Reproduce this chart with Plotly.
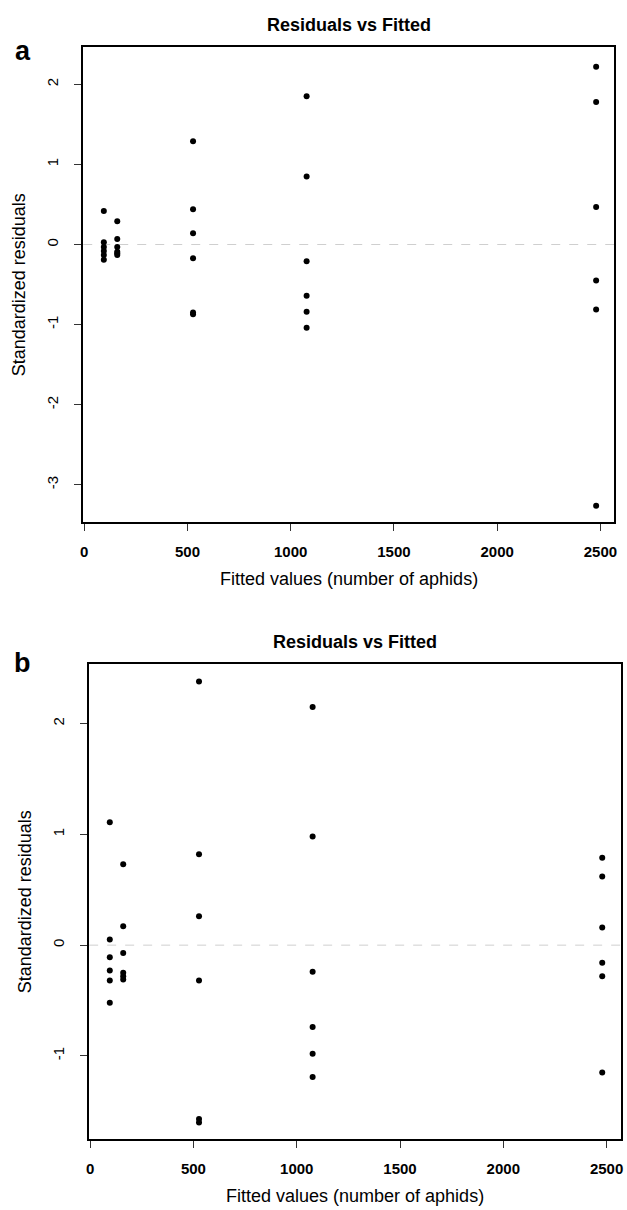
import plotly.graph_objects as go

# ---------------- data ----------------
fitted_groups = [95, 160, 527, 1077, 2479]

# panel a: standardized residuals per fitted group
a_res_95 = [0.42, 0.03, -0.03, -0.08, -0.13, -0.19]
a_res_160 = [0.29, 0.07, -0.03, -0.09, -0.11, -0.13]
a_res_527 = [1.29, 0.44, 0.14, -0.17, -0.85, -0.87]
a_res_1077 = [1.85, 0.85, -0.21, -0.64, -0.84, -1.04]
a_res_2479 = [2.22, 1.78, 0.47, -0.45, -0.81, -3.26]

# panel b
b_res_95 = [1.11, 0.05, -0.11, -0.23, -0.32, -0.52]
b_res_160 = [0.73, 0.17, -0.07, -0.25, -0.28, -0.31]
b_res_527 = [2.38, 0.82, 0.26, -0.32, -1.57, -1.60]
b_res_1077 = [2.15, 0.98, -0.24, -0.74, -0.98, -1.19]
b_res_2479 = [0.79, 0.62, 0.16, -0.16, -0.28, -1.15]

x_ticks = [0, 500, 1000, 1500, 2000, 2500]
a_y_ticks = [-3, -2, -1, 0, 1, 2]
b_y_ticks = [-1, 0, 1, 2]

title_text = "Residuals vs Fitted"
x_title = "Fitted values (number of aphids)"
y_title = "Standardized residuals"

# ---------------- layout helpers ----------------
W, H = 627, 1210


def px(x):
    return x / W


def py(y):
    return 1 - y / H


a_groups = [a_res_95, a_res_160, a_res_527, a_res_1077, a_res_2479]
b_groups = [b_res_95, b_res_160, b_res_527, b_res_1077, b_res_2479]


def flatten(groups):
    xs, ys = [], []
    for fx, vals in zip(fitted_groups, groups):
        for v in vals:
            xs.append(fx)
            ys.append(v)
    return xs, ys


ax_x, ax_y = flatten(a_groups)
bx_x, bx_y = flatten(b_groups)

FONT = "Liberation Sans, Arial, sans-serif"

fig = go.Figure()
fig.add_trace(go.Scatter(x=ax_x, y=ax_y, mode="markers",
                         marker=dict(color="black", size=6),
                         xaxis="x", yaxis="y", showlegend=False))
fig.add_trace(go.Scatter(x=bx_x, y=bx_y, mode="markers",
                         marker=dict(color="black", size=6),
                         xaxis="x2", yaxis="y2", showlegend=False))

# panel boxes in pixels
A_BOX = (81, 617, 47, 522)
B_BOX = (87, 624, 664, 1139)

common_x = dict(
    tickvals=x_ticks, ticktext=[f"<b>{t}</b>" for t in x_ticks],
    ticks="outside", ticklen=7, tickwidth=1, tickcolor="#333",
    showline=True, linecolor="black", linewidth=1.5, mirror=True,
    showgrid=False, zeroline=False,
    tickfont=dict(family=FONT, size=15, color="black"),
    ticklabelstandoff=8,
)
common_y = dict(
    ticks="outside", ticklen=7, tickwidth=1, tickcolor="#333",
    showline=True, linecolor="black", linewidth=1.5, mirror=True,
    showgrid=False, zeroline=False, tickangle=-90,
    tickfont=dict(family=FONT, size=15, color="black"),
    ticklabelstandoff=10,
)

fig.update_layout(
    width=W, height=H,
    margin=dict(l=0, r=0, t=0, b=0),
    paper_bgcolor="white", plot_bgcolor="white",
    xaxis=dict(domain=[px(A_BOX[0]), px(A_BOX[1])], range=[-4.8, 2566],
               anchor="y", **common_x),
    yaxis=dict(domain=[py(A_BOX[3]), py(A_BOX[2])], range=[-3.464, 2.466],
               anchor="x", tickvals=a_y_ticks, ticktext=[str(t) for t in a_y_ticks],
               **common_y),
    xaxis2=dict(domain=[px(B_BOX[0]), px(B_BOX[1])], range=[-4.8, 2570],
                anchor="y2", **common_x),
    yaxis2=dict(domain=[py(B_BOX[3]), py(B_BOX[2])], range=[-1.750, 2.538],
                anchor="x2", tickvals=b_y_ticks, ticktext=[str(t) for t in b_y_ticks],
                **common_y),
)

# dashed zero reference lines
for xr, yr in (("x domain", "y"), ("x2 domain", "y2")):
    fig.add_shape(type="line", xref=xr, yref=yr, x0=0, x1=1, y0=0, y1=0,
                  line=dict(color="#cfcfcf", width=1, dash="dash"), layer="below")

ann = []
for box, lab in ((A_BOX, "a"), (B_BOX, "b")):
    l, r, t, b = box
    cx = (l + r) / 2
    ann.append(dict(text=f"<b>{title_text}</b>", x=px(cx), y=py(t - 22),
                    xref="paper", yref="paper", showarrow=False,
                    xanchor="center", yanchor="middle",
                    font=dict(family=FONT, size=18, color="black")))
    ann.append(dict(text=x_title, x=px(cx), y=py(b + 57),
                    xref="paper", yref="paper", showarrow=False,
                    xanchor="center", yanchor="middle",
                    font=dict(family=FONT, size=18, color="black")))
    ann.append(dict(text=y_title, x=px(l - 65), y=py((t + b) / 2),
                    xref="paper", yref="paper", showarrow=False, textangle=-90,
                    xanchor="center", yanchor="middle",
                    font=dict(family=FONT, size=18, color="black")))
    ann.append(dict(text=f"<b>{lab}</b>", x=px(20), y=py(t + 4 if lab == "a" else t - 1),
                    xref="paper", yref="paper", showarrow=False,
                    xanchor="center", yanchor="middle",
                    font=dict(family=FONT, size=27, color="black")))
fig.update_layout(annotations=ann)

fig.write_html(
    "out.html",
    config={"displayModeBar": False},
    post_script="document.body.style.margin='0';document.body.style.overflow='hidden';",
)
